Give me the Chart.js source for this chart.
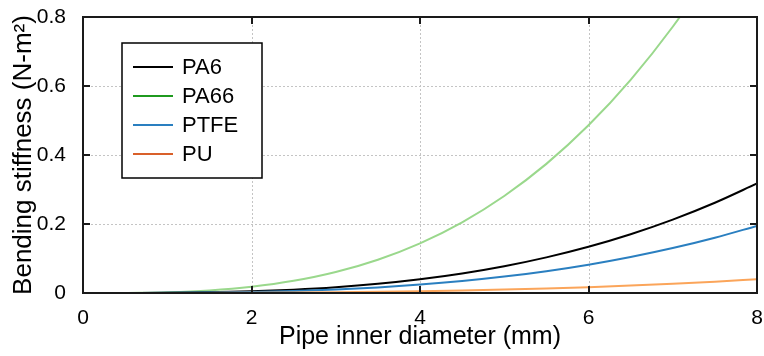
<!DOCTYPE html>
<html>
<head>
<meta charset="utf-8">
<script src="https://cdn.jsdelivr.net/npm/chart.js@4"></script>
<style>
  html, body { margin: 0; padding: 0; background: #fff; }
  #wrap { width: 764px; height: 356px; }
</style>
</head>
<body>
<div id="wrap"><canvas id="chart" width="764" height="356"></canvas></div>
<script>
// pipe inner diameter (mm)
const diameters = [0.5, 1, 1.5, 2, 2.5, 3, 3.5, 4, 4.5, 5, 5.5, 6, 6.5, 7, 7.5, 8];

// bending stiffness (N-m^2)
const pa6  = [0.0001, 0.0006, 0.0021, 0.005, 0.0097, 0.0167, 0.0266, 0.0397, 0.0565, 0.0775, 0.1032, 0.1339, 0.1703, 0.2127, 0.2616, 0.3174];
const pa66 = [0.0003, 0.0023, 0.0076, 0.018, 0.0352, 0.0608, 0.0965, 0.144, 0.205, 0.2813, 0.3743, 0.486, 0.6179, 0.7718, 0.949, 1.152];
const ptfe = [0.00005, 0.0004, 0.0013, 0.003, 0.0059, 0.0103, 0.0163, 0.0243, 0.0346, 0.0475, 0.0632, 0.0821, 0.1044, 0.1303, 0.1603, 0.1946];
const pu   = [0.00001, 0.0001, 0.0003, 0.0006, 0.0012, 0.0021, 0.0033, 0.005, 0.0071, 0.0098, 0.013, 0.0168, 0.0214, 0.0268, 0.0329, 0.0399];

const xTicks = [0, 2, 4, 6, 8];
const yTicks = [0, 0.2, 0.4, 0.6, 0.8];

const FONT = '"Liberation Sans", Arial, sans-serif';

function pts(ys) {
  return diameters.map((d, i) => ({ x: d, y: ys[i] }));
}

// legend swatches use the darker colours, the plotted lines are lighter for two of them
const legendColors = ['#000000', '#1f9a1f', '#2a7fc0', '#d9602a'];

// dotted grid under the lines
const gridPlugin = {
  id: 'dotgrid',
  beforeDatasetsDraw(chart) {
    const { ctx, chartArea: a, scales } = chart;
    ctx.save();
    ctx.strokeStyle = '#c4c4c4';
    ctx.lineWidth = 1;
    ctx.setLineDash([2, 2]);
    ctx.beginPath();
    xTicks.forEach(t => {
      const px = Math.round(scales.x.getPixelForValue(t)) + 0.5;
      ctx.moveTo(px, a.top); ctx.lineTo(px, a.bottom);
    });
    yTicks.forEach(t => {
      const py = Math.round(scales.y.getPixelForValue(t)) + 0.5;
      ctx.moveTo(a.left, py); ctx.lineTo(a.right, py);
    });
    ctx.stroke();
    ctx.restore();
  }
};

// box, inside ticks and legend drawn by hand, matlab style
const boxPlugin = {
  id: 'box',
  afterDatasetsDraw(chart) {
    const { ctx, chartArea: a, scales } = chart;
    ctx.save();
    ctx.strokeStyle = '#1a1a1a';
    ctx.lineWidth = 2;
    ctx.beginPath();
    xTicks.forEach(t => {
      const px = Math.round(scales.x.getPixelForValue(t));
      ctx.moveTo(px, a.bottom); ctx.lineTo(px, a.bottom - 7);
      ctx.moveTo(px, a.top); ctx.lineTo(px, a.top + 7);
    });
    yTicks.forEach(t => {
      const py = Math.round(scales.y.getPixelForValue(t));
      ctx.moveTo(a.left, py); ctx.lineTo(a.left + 7, py);
      ctx.moveTo(a.right, py); ctx.lineTo(a.right - 7, py);
    });
    ctx.stroke();
    ctx.strokeRect(a.left, a.top, a.right - a.left, a.bottom - a.top);

    // legend
    const lx = 122, ly = 43, lw = 140, lh = 135;
    ctx.fillStyle = '#fff';
    ctx.fillRect(lx, ly, lw, lh);
    ctx.lineWidth = 1.5;
    ctx.strokeStyle = '#000';
    ctx.strokeRect(lx, ly, lw, lh);
    ctx.font = '22px ' + FONT;
    ctx.textBaseline = 'middle';
    chart.data.datasets.forEach((ds, i) => {
      const y = 67 + i * 29;
      ctx.strokeStyle = legendColors[i];
      ctx.lineWidth = 2;
      ctx.beginPath();
      ctx.moveTo(133, y); ctx.lineTo(173, y);
      ctx.stroke();
      ctx.fillStyle = '#000';
      ctx.fillText(ds.label, 182, y + 1);
    });
    ctx.restore();
  }
};

new Chart(document.getElementById('chart'), {
  type: 'line',
  data: {
    datasets: [
      { label: 'PA6',  data: pts(pa6),  borderColor: '#000000', order: 2 },
      { label: 'PA66', data: pts(pa66), borderColor: '#9ad88c', order: 3 },
      { label: 'PTFE', data: pts(ptfe), borderColor: '#2a7fc0', order: 1 },
      { label: 'PU',   data: pts(pu),   borderColor: '#fba55a', order: 0 }
    ]
  },
  options: {
    responsive: false,
    animation: false,
    layout: { padding: { top: 17, right: 7, left: 0, bottom: 0 } },
    elements: {
      point: { radius: 0 },
      line: { borderWidth: 2, cubicInterpolationMode: 'monotone', fill: false }
    },
    plugins: { legend: { display: false }, tooltip: { enabled: false } },
    scales: {
      x: {
        type: 'linear', min: 0, max: 8,
        afterBuildTicks(s) { s.ticks = xTicks.map(v => ({ value: v })); },
        afterFit(s) { s.height = 63; s.paddingLeft = 0; s.paddingRight = 0; },
        border: { display: false },
        grid: { display: false },
        ticks: { color: '#000', font: { family: FONT, size: 21 }, padding: 5, maxRotation: 0 },
        title: { display: true, text: 'Pipe inner diameter (mm)', color: '#000', font: { family: FONT, size: 25 }, padding: { top: 0, bottom: 4 } }
      },
      y: {
        type: 'linear', min: 0, max: 0.8,
        afterBuildTicks(s) { s.ticks = yTicks.map(v => ({ value: v })); },
        afterFit(s) { s.width = 83; s.paddingTop = 0; s.paddingBottom = 0; },
        border: { display: false },
        grid: { display: false },
        ticks: { color: '#000', font: { family: FONT, size: 21 }, padding: 9,
                 callback: v => (v === 0 ? '0' : v.toFixed(1)) },
        title: { display: true, text: 'Bending stiffness (N-m²)', color: '#000', font: { family: FONT, size: 26 }, padding: { top: 8, bottom: 0 } }
      }
    }
  },
  plugins: [gridPlugin, boxPlugin]
});
</script>
</body>
</html>
